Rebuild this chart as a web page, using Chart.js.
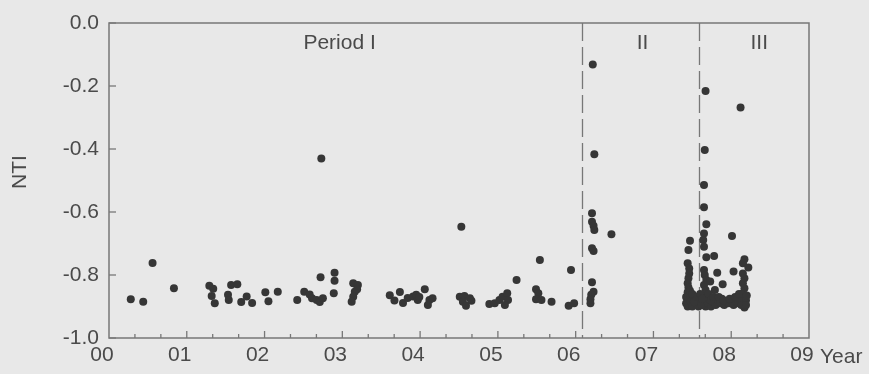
<!DOCTYPE html>
<html><head><meta charset="utf-8">
<script src="https://cdn.jsdelivr.net/npm/chart.js@4"></script>
<style>html,body{margin:0;padding:0;background:#e8e8e8;}#wrap{width:869px;height:374px;}</style>
</head><body><div id="wrap"><canvas id="c" width="869" height="374"></canvas></div>
<script>
const xTickLabels = ['00','01','02','03','04','05','06','07','08','09'];
const yTickValues = [-1.0,-0.8,-0.6,-0.4,-0.2,0.0];
const periodBoundaries = [6.08, 7.58];
const periodLabels = ['Period I','II','III'];
const periodLabelYears = [2.965, 6.86, 8.36];
const periodLabelNTI = -0.065;

const periodI = [
[0.28,-0.877],[0.44,-0.885],[0.56,-0.762],[0.835,-0.842],
[1.29,-0.834],[1.34,-0.844],[1.32,-0.867],[1.36,-0.890],
[1.53,-0.863],[1.54,-0.879],[1.57,-0.832],[1.65,-0.829],
[1.70,-0.886],[1.77,-0.868],[1.84,-0.889],
[2.01,-0.855],[2.05,-0.883],[2.17,-0.853],
[2.42,-0.879],[2.51,-0.853],[2.58,-0.862],[2.61,-0.874],[2.67,-0.879],[2.71,-0.886],[2.75,-0.874],
[2.72,-0.807],[2.73,-0.430],
[2.90,-0.793],[2.90,-0.818],[2.89,-0.858],
[3.14,-0.826],[3.20,-0.832],[3.16,-0.853],[3.14,-0.869],[3.12,-0.885],[3.19,-0.845],
[3.61,-0.864],[3.67,-0.881],[3.74,-0.854],[3.78,-0.889],[3.84,-0.873],[3.91,-0.868],[3.95,-0.863],
[3.97,-0.879],[3.99,-0.870],[4.06,-0.845],[4.12,-0.879],[4.10,-0.895],[4.16,-0.874],
[4.51,-0.869],[4.57,-0.867],[4.64,-0.874],[4.55,-0.885],[4.59,-0.898],[4.66,-0.882],[4.53,-0.647],
[4.89,-0.892],[4.96,-0.890],[5.02,-0.879],[5.06,-0.869],[5.12,-0.858],[5.13,-0.879],[5.09,-0.895],[5.24,-0.816],
[5.49,-0.845],[5.52,-0.858],[5.49,-0.877],[5.56,-0.879],[5.54,-0.752],[5.69,-0.885],
[5.94,-0.784],[5.91,-0.898],[5.98,-0.890]
];
const periodII = [
[6.22,-0.132],[6.24,-0.417],[6.21,-0.604],[6.21,-0.631],[6.23,-0.644],[6.24,-0.657],[6.46,-0.671],
[6.21,-0.715],[6.23,-0.724],[6.21,-0.823],[6.23,-0.853],[6.20,-0.863],[6.19,-0.877],[6.19,-0.890]
];
const periodIII = [
[7.67,-0.216],[8.12,-0.268],[7.66,-0.403],[7.65,-0.514],[7.65,-0.585],[7.68,-0.639],[8.01,-0.676],
[7.65,-0.668],[7.64,-0.689],[7.65,-0.710],[7.47,-0.691],[7.45,-0.721],
[7.68,-0.744],[7.78,-0.740],
[7.44,-0.763],[7.46,-0.779],[7.46,-0.795],[7.45,-0.810],[7.44,-0.826],[7.45,-0.840],[7.44,-0.855],
[8.17,-0.750],[8.15,-0.763],[8.22,-0.776],
[7.82,-0.793],[8.03,-0.789],
[7.65,-0.784],[7.66,-0.800],[7.68,-0.816],[7.65,-0.832],[7.67,-0.848],[7.68,-0.869],[7.65,-0.885],[7.67,-0.900],
[7.89,-0.829],[7.79,-0.848],[7.73,-0.821],
[8.15,-0.795],[8.17,-0.810],[8.15,-0.826],[8.17,-0.842],[8.15,-0.858],[8.17,-0.874],[8.15,-0.890],[8.17,-0.903],
[7.42,-0.870],[7.42,-0.890],[7.44,-0.900],[7.47,-0.870],[7.48,-0.885],[7.50,-0.900],[7.53,-0.875],[7.55,-0.890],
[7.58,-0.900],[7.60,-0.880],[7.62,-0.895],[7.70,-0.890],[7.72,-0.875],[7.74,-0.900],[7.76,-0.885],[7.80,-0.895],
[7.83,-0.880],[7.86,-0.890],[7.88,-0.875],[7.91,-0.895],[7.94,-0.885],[7.97,-0.890],[8.00,-0.880],[8.03,-0.895],
[8.06,-0.885],[8.09,-0.890],[8.11,-0.875],[8.13,-0.895],[8.19,-0.880],[8.19,-0.895],
[7.47,-0.850],[7.50,-0.860],[7.52,-0.885],[7.56,-0.870],[7.60,-0.860],[7.63,-0.875],[7.71,-0.860],[7.74,-0.880],
[7.77,-0.870],[7.84,-0.870],[7.90,-0.880],[7.98,-0.875],[8.05,-0.870],[8.10,-0.860],[8.20,-0.865]
];

const FONT = 'Liberation Sans, Arial, sans-serif';
const TEXT = '#4a4a4a';
const AXIS = '#777777';
const DOT = '#363636';

const toXY = a => a.map(p => ({x:p[0], y:p[1]}));
const ds = (label, arr) => ({label, data: toXY(arr), backgroundColor: DOT, borderWidth: 0, pointRadius: 4, pointHoverRadius: 4});

const deco = {
  id:'deco',
  beforeDraw(chart){
    const c = chart.ctx; c.save(); c.fillStyle='#e8e8e8'; c.fillRect(0,0,chart.width,chart.height); c.restore();
  },
  beforeDatasetsDraw(chart){
    const c = chart.ctx, a = chart.chartArea, xs = chart.scales.x, ys = chart.scales.y;
    c.save();
    c.strokeStyle = AXIS; c.lineWidth = 1.3; c.setLineDash([18,6]);
    periodBoundaries.forEach(v => {
      const px = Math.round(xs.getPixelForValue(v)) + 0.5;
      c.beginPath(); c.moveTo(px, a.top); c.lineTo(px, a.bottom); c.stroke();
    });
    c.setLineDash([]);
    c.lineWidth = 1.5;
    c.strokeRect(a.left, a.top, a.right - a.left, a.bottom - a.top);
    c.lineWidth = 1.3;
    for (let i = 1; i < 27; i++) {
      const px = xs.getPixelForValue(i / 3);
      const len = (i % 3 === 0) ? 7 : 4;
      c.beginPath(); c.moveTo(px, a.bottom); c.lineTo(px, a.bottom - len); c.stroke();
    }
    yTickValues.forEach(v => {
      const py = ys.getPixelForValue(v);
      c.beginPath(); c.moveTo(a.left, py); c.lineTo(a.left + 7, py); c.stroke();
    });
    c.restore();
  },
  afterDraw(chart){
    const c = chart.ctx, a = chart.chartArea, xs = chart.scales.x, ys = chart.scales.y;
    c.save();
    c.fillStyle = TEXT; c.font = '21px ' + FONT; c.textAlign = 'center'; c.textBaseline = 'middle';
    periodLabels.forEach((t, i) => c.fillText(t, xs.getPixelForValue(periodLabelYears[i]), ys.getPixelForValue(periodLabelNTI)));
    c.textAlign = 'left';
    c.fillText('Year', 820, 357);
    c.translate(20, 172); c.rotate(-Math.PI/2); c.textAlign = 'center';
    c.fillText('NTI', 0, 0);
    c.restore();
  }
};

new Chart(document.getElementById('c'), {
  type: 'scatter',
  data: { datasets: [ds('Period I', periodI), ds('Period II', periodII), ds('Period III', periodIII)] },
  options: {
    responsive: false, devicePixelRatio: 1, animation: false,
    layout: { padding: { left: 0, right: 60, top: 23, bottom: 0 } },
    plugins: { legend: { display: false }, tooltip: { enabled: false } },
    scales: {
      x: {
        type: 'linear', min: 0, max: 9,
        grid: { display: false, drawTicks: false, tickLength: 0 },
        border: { display: false },
        afterFit(s){ s.height = 36; },
        afterBuildTicks(s){ s.ticks = xTickLabels.map((_, i) => ({value: i})); },
        ticks: { padding: 5, labelOffset: -7, color: TEXT, font: { family: FONT, size: 21 },
                 callback: (v) => xTickLabels[Math.round(v)] }
      },
      y: {
        type: 'linear', min: -1, max: 0,
        grid: { display: false, drawTicks: false, tickLength: 0 },
        border: { display: false },
        afterFit(s){ s.width = 109; },
        afterBuildTicks(s){ s.ticks = yTickValues.map(v => ({value: v})); },
        ticks: { padding: 10, color: TEXT, font: { family: FONT, size: 21 },
                 callback: (v) => Number(v).toFixed(1) }
      }
    }
  },
  plugins: [deco]
});
</script></body></html>
